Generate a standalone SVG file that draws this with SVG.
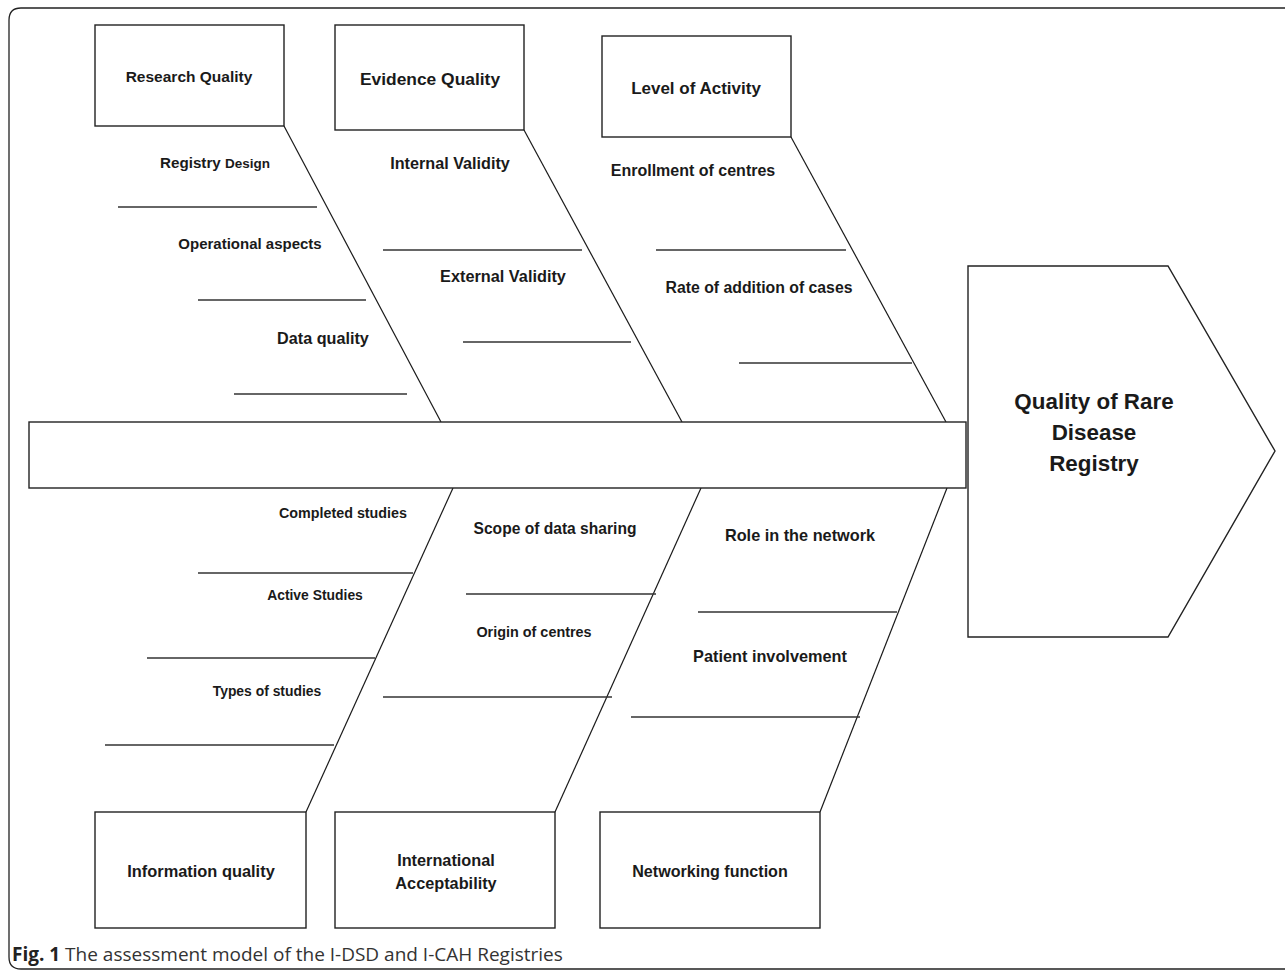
<svg xmlns="http://www.w3.org/2000/svg" width="1285" height="973" viewBox="0 0 1285 973">
<style>
.bx{fill:#fff;stroke:#222;stroke-width:1.4}
.ln{stroke:#1a1a1a;stroke-width:1.2;fill:none}
.hl{stroke:#333;stroke-width:1.4;fill:none}
text{font-family:"Liberation Sans",Arial,sans-serif;font-weight:bold;fill:#1a1a1a;text-anchor:middle}
.cap{font-family:"Open Sans","Noto Sans",sans-serif;font-weight:normal;fill:#333;text-anchor:start;font-size:19px}
</style>
<path d="M1290,8 H21 Q9,8 9,20 V957 Q9,969 21,969 H1290" fill="none" stroke="#222" stroke-width="1.3"/>
<g id="connectors">
<line class="ln" x1="284" y1="126" x2="441" y2="422"/>
<line class="ln" x1="524" y1="130" x2="682" y2="422"/>
<line class="ln" x1="791" y1="137" x2="946" y2="422"/>
<line class="ln" x1="306" y1="812" x2="453" y2="488"/>
<line class="ln" x1="555" y1="812" x2="701" y2="488"/>
<line class="ln" x1="820" y1="812" x2="947" y2="488"/>
<line class="hl" x1="118" y1="207" x2="317" y2="207"/>
<line class="hl" x1="198" y1="300" x2="366" y2="300"/>
<line class="hl" x1="234" y1="394" x2="407" y2="394"/>
<line class="hl" x1="383" y1="250" x2="582" y2="250"/>
<line class="hl" x1="463" y1="342" x2="631" y2="342"/>
<line class="hl" x1="656" y1="250" x2="846" y2="250"/>
<line class="hl" x1="739" y1="363" x2="912" y2="363"/>
<line class="hl" x1="198" y1="573" x2="413" y2="573"/>
<line class="hl" x1="147" y1="658" x2="375" y2="658"/>
<line class="hl" x1="105" y1="745" x2="334" y2="745"/>
<line class="hl" x1="466" y1="594" x2="656" y2="594"/>
<line class="hl" x1="383" y1="697" x2="612" y2="697"/>
<line class="hl" x1="698" y1="612" x2="897" y2="612"/>
<line class="hl" x1="631" y1="717" x2="860" y2="717"/>
</g>
<g id="spine"><rect class="bx" x="29" y="422" width="937" height="66" stroke="#555"/></g>
<g id="head">
<polygon class="bx" points="968,266 1168,266 1275,451 1168,637 968,637"/>
<text x="1094" y="409" font-size="22.4">Quality of Rare</text>
<text x="1094" y="440" font-size="22.4">Disease</text>
<text x="1094" y="471" font-size="22.4">Registry</text>
</g>
<g id="research-quality"><rect class="bx" x="95" y="25" width="189" height="101"/><text x="189" y="82" font-size="15.5">Research Quality</text></g>
<g id="evidence-quality"><rect class="bx" x="335" y="25" width="189" height="105"/><text x="430" y="85" font-size="17.4">Evidence Quality</text></g>
<g id="level-of-activity"><rect class="bx" x="602" y="36" width="189" height="101"/><text x="696" y="94" font-size="17">Level of Activity</text></g>
<g id="information-quality"><rect class="bx" x="95" y="812" width="211" height="116"/><text x="201" y="877" font-size="16.4">Information quality</text></g>
<g id="international-acceptability"><rect class="bx" x="335" y="812" width="220" height="116"/><text x="446" y="866" font-size="16.3">International</text><text x="446" y="889" font-size="16.3">Acceptability</text></g>
<g id="networking-function"><rect class="bx" x="600" y="812" width="220" height="116"/><text x="710" y="877" font-size="16.1">Networking function</text></g>
<g id="labels">
<text x="215" y="168" font-size="15.2">Registry <tspan font-size="13.5">Design</tspan></text>
<text x="250" y="249" font-size="15">Operational aspects</text>
<text x="323" y="344" font-size="16.2">Data quality</text>
<text x="450" y="169" font-size="16.2">Internal Validity</text>
<text x="503" y="282" font-size="16.3">External Validity</text>
<text x="693" y="176" font-size="16">Enrollment of centres</text>
<text x="759" y="293" font-size="15.8">Rate of addition of cases</text>
<text x="343" y="518" font-size="14.3">Completed studies</text>
<text x="315" y="600" font-size="13.9">Active Studies</text>
<text x="267" y="696" font-size="13.9">Types of studies</text>
<text x="555" y="534" font-size="15.6">Scope of data sharing</text>
<text x="534" y="637" font-size="14.4">Origin of centres</text>
<text x="800" y="541" font-size="16.3">Role in the network</text>
<text x="770" y="662" font-size="16.3">Patient involvement</text>
</g>
<text class="cap" x="12" y="961"><tspan font-weight="bold" fill="#222">Fig. 1</tspan> The assessment model of the I-DSD and I-CAH Registries</text>
</svg>
